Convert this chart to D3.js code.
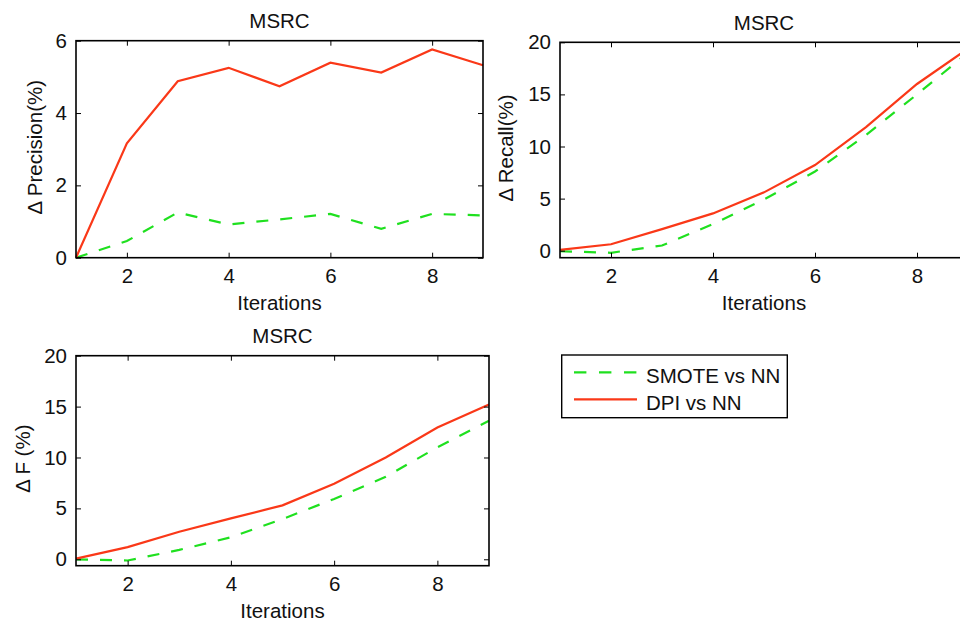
<!DOCTYPE html>
<html>
<head>
<meta charset="utf-8">
<script src="https://cdn.jsdelivr.net/npm/d3@7/dist/d3.min.js"></script>
<style>
  html, body { margin: 0; padding: 0; background: #fff; }
  svg { display: block; font-family: "Liberation Sans", Arial, Helvetica, sans-serif; }
  .tick line { stroke: #000; stroke-width: 1; }
  .tick text { font-size: 20.5px; fill: #111; }
</style>
</head>
<body>
<svg id="chart" width="960" height="623"></svg>
<script>
// Iteration index on the x axis
const iterations = [1, 2, 3, 4, 5, 6, 7, 8, 9];

// Series names
const seriesNames = ["SMOTE vs NN", "DPI vs NN"];

// Δ Precision (%)
const precisionSmote = [0, 0.46, 1.25, 0.92, 1.06, 1.21, 0.80, 1.21, 1.17];
const precisionDpi   = [0, 3.16, 4.88, 5.25, 4.74, 5.39, 5.12, 5.76, 5.32];

// Δ Recall (%)
const recallSmote = [-0.05, -0.2, 0.5, 2.56, 4.92, 7.6, 11.1, 15.0, 19.0];
const recallDpi   = [0.08, 0.62, 2.07, 3.58, 5.6, 8.22, 11.87, 16.0, 19.4];

// Δ F (%)
const fSmote = [0, -0.12, 0.92, 2.16, 3.95, 5.93, 8.1, 11.0, 13.6];
const fDpi   = [0.07, 1.2, 2.7, 4.02, 5.3, 7.42, 10.0, 12.95, 15.2];

// Tick values
const xTicks = [2, 4, 6, 8];
const precisionTicks = [0, 2, 4, 6];
const recallTicks = [0, 5, 10, 15, 20];
const fTicks = [0, 5, 10, 15, 20];

const COLOR_SMOTE = "#1fe01f";
const COLOR_DPI = "#fa3818";
const FONT_SIZE = 20.5;

const svg = d3.select("#chart");

function panel(cfg) {
  const { left, right, top, bottom, yDomain, yTicks, title, yLabel, yLabelX, smote, dpi } = cfg;
  const x = d3.scaleLinear().domain([1, 9]).range([left, right]);
  const y = d3.scaleLinear().domain(yDomain).range([bottom, top]);
  const g = svg.append("g");

  // data lines
  const line = d3.line().x((d, i) => x(iterations[i])).y(d => y(d));
  g.append("path").datum(smote)
    .attr("d", line).attr("fill", "none")
    .attr("stroke", COLOR_SMOTE).attr("stroke-width", 2.2)
    .attr("stroke-dasharray", "12,12");
  g.append("path").datum(dpi)
    .attr("d", line).attr("fill", "none")
    .attr("stroke", COLOR_DPI).attr("stroke-width", 2.2);

  // axes (ticks point inward, box drawn separately)
  const ax = (sel) => sel.call(s => s.select(".domain").remove());
  g.append("g").attr("transform", `translate(0,${bottom})`)
    .call(d3.axisBottom(x).tickValues(xTicks).tickSizeInner(-5).tickSizeOuter(0).tickPadding(11).tickFormat(d3.format("d")))
    .call(ax);
  g.append("g").attr("transform", `translate(0,${top})`)
    .call(d3.axisTop(x).tickValues(xTicks).tickSizeInner(-5).tickSizeOuter(0).tickFormat(""))
    .call(ax);
  g.append("g").attr("transform", `translate(${left},0)`)
    .call(d3.axisLeft(y).tickValues(yTicks).tickSizeInner(-5).tickSizeOuter(0).tickPadding(9).tickFormat(d3.format("d")))
    .call(ax);
  g.append("g").attr("transform", `translate(${right},0)`)
    .call(d3.axisRight(y).tickValues(yTicks).tickSizeInner(-5).tickSizeOuter(0).tickFormat(""))
    .call(ax);
  g.selectAll(".tick text").attr("font-family", null).attr("font-size", null);

  // frame
  g.append("rect")
    .attr("x", left).attr("y", top)
    .attr("width", right - left).attr("height", bottom - top)
    .attr("fill", "none").attr("stroke", "#000").attr("stroke-width", 1.6);

  // title
  g.append("text")
    .attr("x", (left + right) / 2).attr("y", top - 12.5)
    .attr("text-anchor", "middle").attr("font-size", FONT_SIZE).attr("fill", "#111")
    .text(title);

  // x label
  g.append("text")
    .attr("x", (left + right) / 2).attr("y", bottom + 52)
    .attr("text-anchor", "middle").attr("font-size", FONT_SIZE).attr("fill", "#111")
    .text("Iterations");

  // y label
  g.append("text")
    .attr("transform", `translate(${yLabelX},${(top + bottom) / 2 - 2}) rotate(-90)`)
    .attr("text-anchor", "middle").attr("font-size", FONT_SIZE).attr("fill", "#111")
    .text(yLabel);
}

panel({
  left: 76, right: 483, top: 40.7, bottom: 257.7,
  yDomain: [0, 6], yTicks: precisionTicks,
  title: "MSRC", yLabel: "\u0394 Precision(%)", yLabelX: 41.5,
  smote: precisionSmote, dpi: precisionDpi
});

panel({
  left: 560, right: 968, top: 42.3, bottom: 257.7,
  yDomain: [-0.67, 20], yTicks: recallTicks,
  title: "MSRC", yLabel: "\u0394 Recall(%)", yLabelX: 513,
  smote: recallSmote, dpi: recallDpi
});

panel({
  left: 76, right: 489, top: 355.7, bottom: 565.7,
  yDomain: [-0.63, 20], yTicks: fTicks,
  title: "MSRC", yLabel: "\u0394 F (%)", yLabelX: 30,
  smote: fSmote, dpi: fDpi
});

// legend
const legend = svg.append("g");
legend.append("rect")
  .attr("x", 561.7).attr("y", 355).attr("width", 225.6).attr("height", 62.7)
  .attr("fill", "#fff").attr("stroke", "#000").attr("stroke-width", 1.4);
const legendRows = [
  { name: seriesNames[0], color: COLOR_SMOTE, dash: "12.4,12.6", y: 372.3 },
  { name: seriesNames[1], color: COLOR_DPI, dash: null, y: 399.3 }
];
legendRows.forEach(r => {
  legend.append("line")
    .attr("x1", 574).attr("x2", 637).attr("y1", r.y).attr("y2", r.y)
    .attr("stroke", r.color).attr("stroke-width", 2.2)
    .attr("stroke-dasharray", r.dash);
  legend.append("text")
    .attr("x", 646).attr("y", r.y + 11)
    .attr("font-size", FONT_SIZE).attr("fill", "#111")
    .text(r.name);
});
</script>
</body>
</html>
